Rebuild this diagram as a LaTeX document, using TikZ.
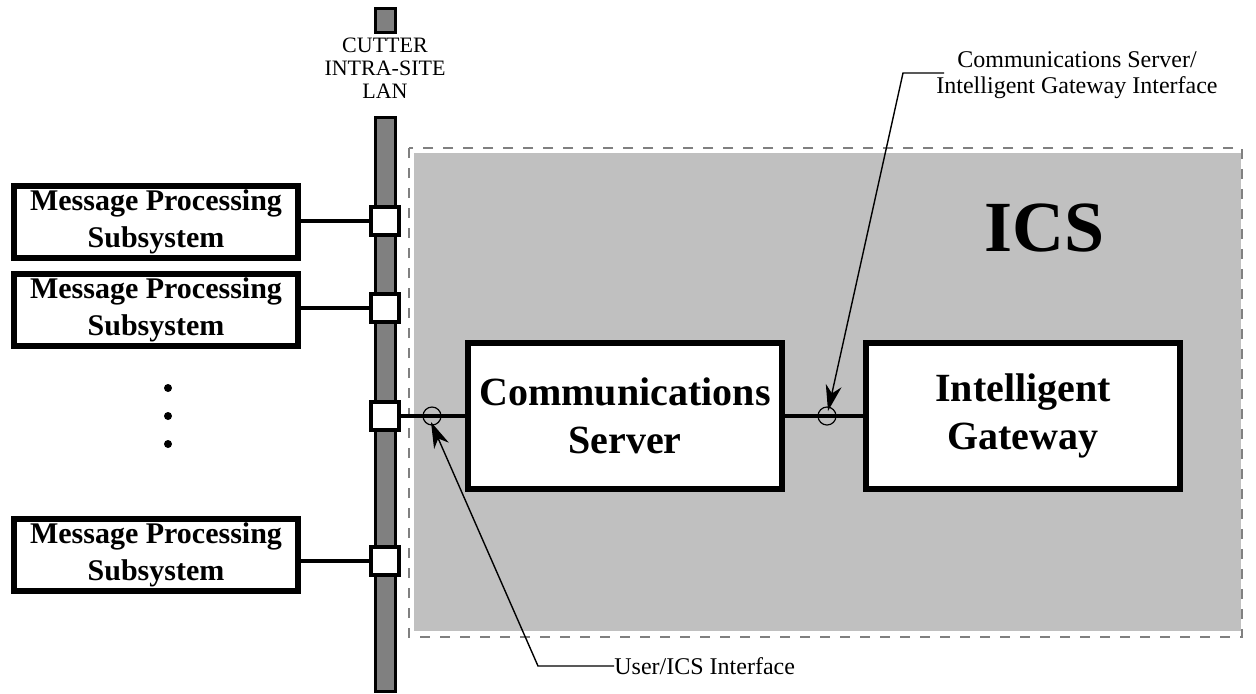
\documentclass[tikz,border=0pt]{standalone}
\usepackage{fontspec}
\setmainfont{Liberation Serif}
\usetikzlibrary{arrows.meta}
\definecolor{lanGray}{RGB}{128,128,128}
\definecolor{icsGray}{RGB}{192,192,192}
\begin{document}
\begin{tikzpicture}[x=0.5pt, y=-0.5pt,
	subsys/.style={draw, line width=3.3pt, fill=white, minimum width=142pt, minimum height=36pt, inner sep=0pt, align=center, font=\bfseries\fontsize{15}{18.5}\selectfont},
	bigbox/.style={draw, line width=3.3pt, fill=white, minimum width=157pt, minimum height=73pt, inner sep=0pt, align=center, font=\bfseries\fontsize{20}{24}\selectfont},
	port/.style={draw, line width=2.4pt, fill=white, minimum size=14pt, inner sep=0pt},
	ring/.style={draw, circle, line width=0.6pt, minimum size=9pt, inner sep=0pt},
	dot/.style={circle, fill=black, minimum size=4pt, inner sep=0pt},
	link/.style={line width=2.4pt},
	leader/.style={line width=0.7pt, -{Stealth[length=13pt, width=8pt, inset=4pt]}},
	callout/.style={align=center, inner sep=0pt, font=\fontsize{12}{13}\selectfont}]
	\useasboundingbox (0,0) rectangle (1256,693);
	
	% ICS area
	\fill[icsGray] (414,153) rectangle (1241,631);
	\draw[lanGray, line width=0.6pt, dash pattern=on 5pt off 5pt] (409,148) rectangle (1242,637);
	\node[font=\bfseries\fontsize{36}{36}\selectfont] (ics) at (1045,228) {ICS};
	
	% LAN bar
	\draw[line width=1.5pt, fill=lanGray] (375,8) rectangle (395,32);
	\draw[line width=1.5pt, fill=lanGray] (375,117) rectangle (395,691);
	\node[align=center, font=\fontsize{11}{11.5}\selectfont] (lan) at (385,68) {CUTTER\\INTRA-SITE\\LAN};
	
	% Ports on the LAN
	\node[port] (port1) at (385,221) {};
	\node[port] (port2) at (385,308) {};
	\node[port] (port3) at (385,416) {};
	\node[port] (port4) at (385,561) {};
	
	% Message processing subsystems
	\node[subsys] (mps1) at (156,222) {Message Processing\\Subsystem};
	\node[subsys] (mps2) at (156,310) {Message Processing\\Subsystem};
	\node[subsys] (mps4) at (156,555) {Message Processing\\Subsystem};
	\foreach \n in {1,2,4}
	\draw[link] (mps\n.east |- port\n) -- (port\n);
	
	% Dots
	\node[dot] (dot1) at (168,388) {};
	\node[dot] (dot2) at (168,416) {};
	\node[dot] (dot3) at (168,444) {};
	
	% ICS boxes
	\node[bigbox] (cs) at (625,416) {Communications\\Server};
	\node[bigbox] (ig) at (1023,416) {Intelligent\\Gateway};
	\draw[link] (port3) -- (cs);
	\draw[link] (cs) -- (ig);
	
	% Interfaces
	\node[ring] (ring1) at (432,416) {};
	\node[ring] (ring2) at (827,416) {};
	
	% Callouts
	\node[callout, anchor=west] (usrTxt) at (614,666) {User/ICS Interface};
	\coordinate (usrBend) at (538,666);
	\coordinate (usrTip) at (431,422);
	\draw[leader] (usrTxt.west) -- (usrBend) -- (usrTip);
	
	\node[callout] (csigTxt) at (1077,75) {Communications Server/\\Intelligent Gateway Interface};
	\coordinate (csigEnd) at (944,73);
	\coordinate (csigBend) at (903,73);
	\coordinate (csigTip) at (828,411);
	\draw[leader] (csigEnd) -- (csigBend) -- (csigTip);
\end{tikzpicture}
\end{document}
